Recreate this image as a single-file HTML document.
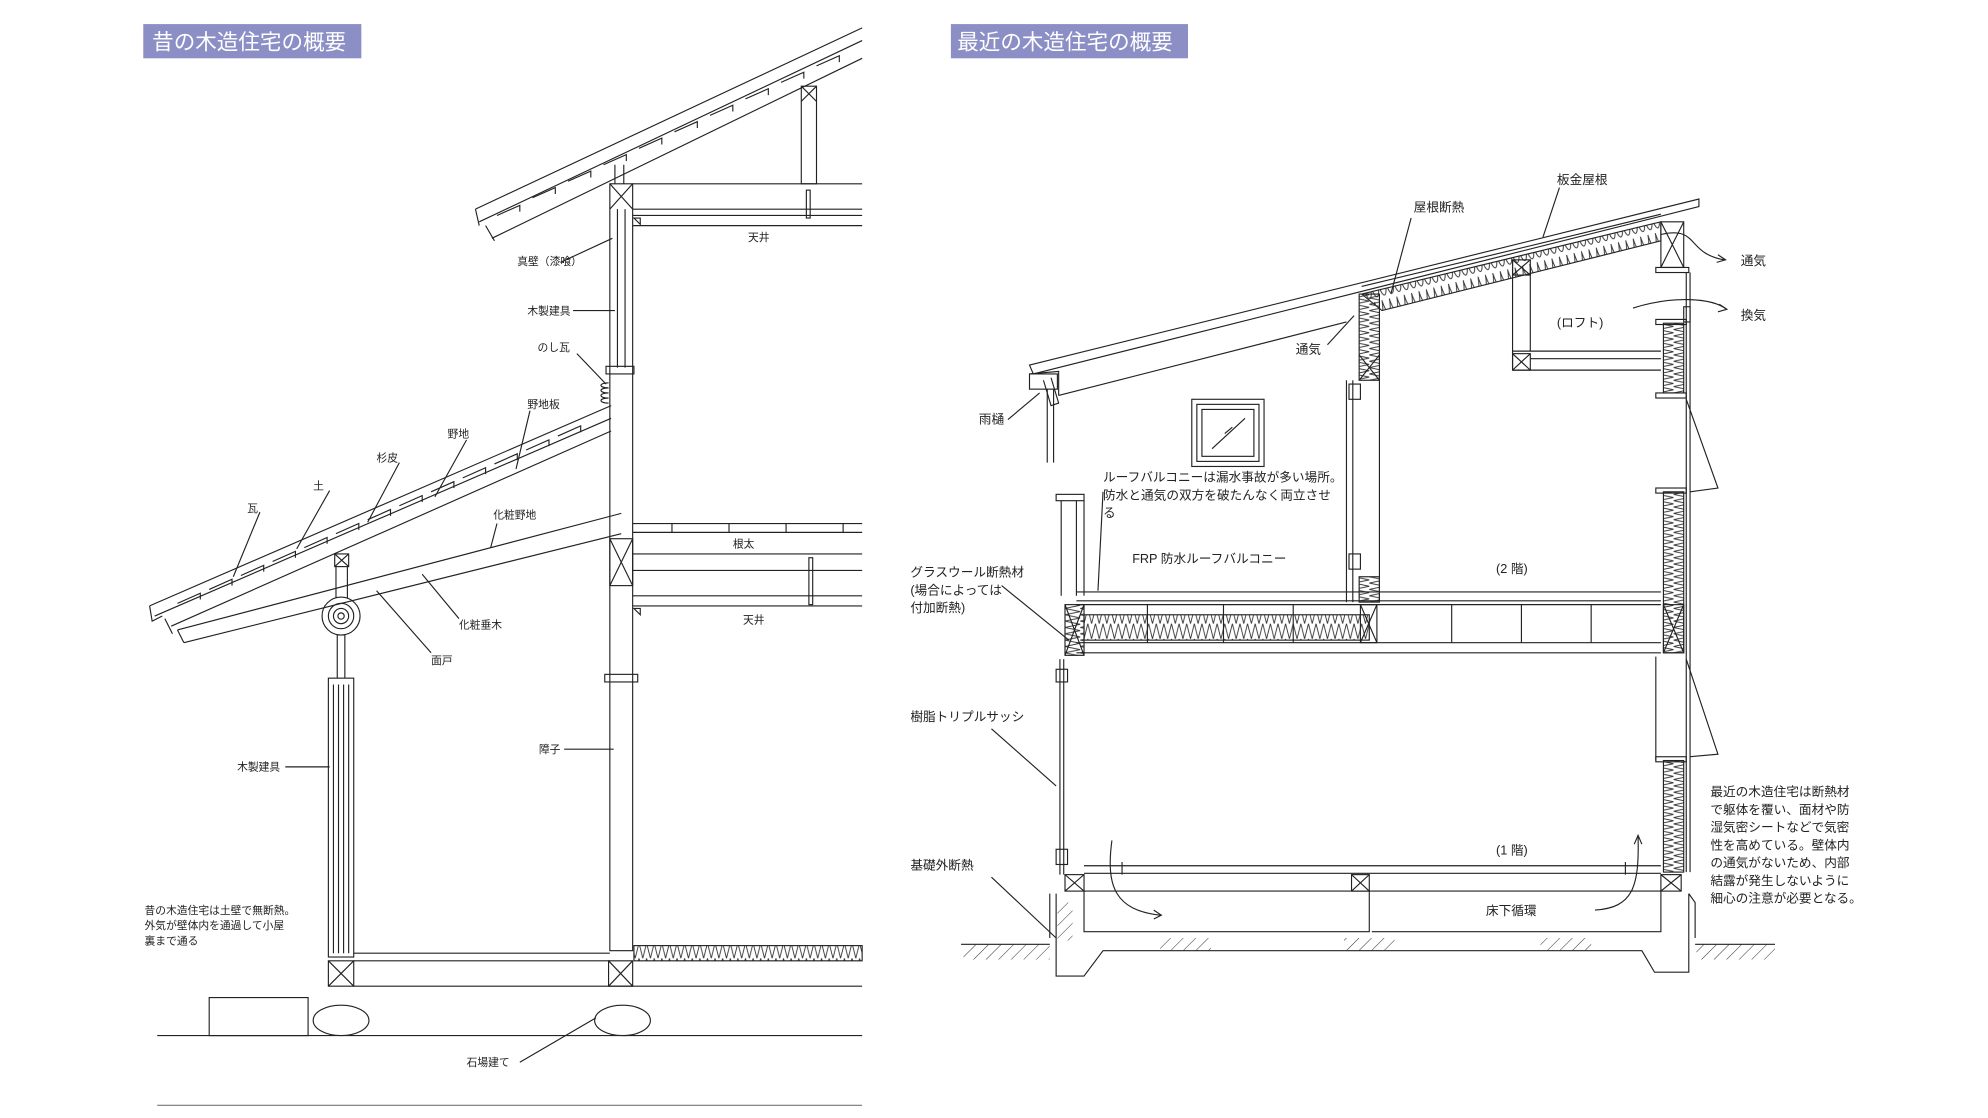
<!DOCTYPE html>
<html><head><meta charset="utf-8"><style>
html,body{margin:0;padding:0;background:#fff;}
svg{display:block;}
text{font-family:"Liberation Sans","Noto Sans CJK JP",sans-serif;fill:#222;}
.s{font-size:8.5px;}
.m{font-size:10px;}
</style></head><body>
<svg width="1988" height="1118" viewBox="0 0 1568 882" preserveAspectRatio="none" xmlns="http://www.w3.org/2000/svg">
<defs>
<pattern id="zz" width="6" height="12" patternUnits="userSpaceOnUse"><path d="M0,0 L3,12 L6,0" fill="none" stroke="#333" stroke-width="0.7"/></pattern>
<pattern id="zr" width="6" height="14" patternUnits="userSpaceOnUse" patternTransform="rotate(-13.8)"><path d="M0,0 C1,14 5,14 6,0" fill="none" stroke="#333" stroke-width="0.7"/></pattern>
<pattern id="zv" width="12" height="5" patternUnits="userSpaceOnUse"><path d="M0,0 L12,2.5 L0,5" fill="none" stroke="#333" stroke-width="0.7"/></pattern>
<pattern id="hatch" width="7" height="7" patternUnits="userSpaceOnUse" patternTransform="rotate(45)"><line x1="0" y1="0" x2="0" y2="7" stroke="#333" stroke-width="0.8"/></pattern>
</defs>
<g fill="none" stroke="#222" stroke-width="0.9">

<!-- ===== LEFT ===== -->
<rect x="113" y="19" width="172" height="27" fill="#8b8fc5" stroke="none"/>
<path d="M375,165 L680,22 M378,175 L680,32 M388,188 L680,46"/>
<path d="M375,165 L378,178 M383,178 L390,190" />
<path d="M392,170 l18,-8 l0,5 M420,156 l18,-8 l0,5 M448,143 l18,-8 l0,5 M476,130 l18,-8 l0,5 M504,117 l18,-8 l0,5 M532,104 l18,-8 l0,5 M560,91 l18,-8 l0,5 M588,78 l18,-8 l0,5 M616,65 l18,-8 l0,5 M644,52 l18,-8 l0,5" />
<rect x="481" y="145" width="18" height="605"/>
<path d="M481,145 L499,165 M499,145 L481,165"/>
<path d="M485,130 L485,145 M492,130 L492,145"/>
<path d="M499,145 L680,145 M499,165 L680,165 M499,170 L680,170 M499,178 L680,178"/>
<rect x="636" y="150" width="3" height="22"/>
<rect x="632" y="68" width="12" height="77"/>
<path d="M632,68 L644,80 M644,68 L632,80"/>
<path d="M487,165 L487,290 M493,165 L493,290"/>
<rect x="478" y="289" width="22" height="6"/>
<path d="M500,172 l5,0 l0,5 z"/>
<path d="M480,302 c-8,0 -8,4 0,4 c-8,0 -8,4 0,4 c-8,0 -8,4 0,4 c-8,0 -8,4 0,4"/>
<path d="M118,478 L482,320 M122,486 L482,330 M135,494 L482,340"/>
<path d="M118,478 L120,490 L128,486 M130,488 L136,500"/>
<path d="M140,476 l18,-8 l0,5 M165,465 l18,-8 l0,5 M190,454 l18,-8 l0,5 M215,443 l18,-8 l0,5 M240,432 l18,-8 l0,5 M265,421 l18,-8 l0,5 M290,410 l18,-8 l0,5 M315,399 l18,-8 l0,5 M340,388 l18,-8 l0,5 M365,377 l18,-8 l0,5 M390,366 l18,-8 l0,5 M415,355 l18,-8 l0,5 M440,344 l18,-8 l0,5" />
<path d="M140,497 L490,405 M145,507 L490,421 M140,497 L145,507"/>
<rect x="481" y="425" width="18" height="37"/>
<path d="M481,425 L499,462 M499,425 L481,462"/>
<path d="M499,413 L680,413 M499,420 L680,420 M530,413 L530,420 M575,413 L575,420 M620,413 L620,420 M665,413 L665,420"/>
<path d="M499,437 L680,437 M499,450 L680,450 M499,470 L680,470 M499,478 L680,478"/>
<rect x="638" y="440" width="3" height="37"/>
<path d="M500,480 l5,0 l0,5 z"/>
<rect x="477" y="532" width="26" height="6"/>
<rect x="264" y="437" width="11" height="10"/>
<path d="M264,437 L275,447 M275,437 L264,447"/>
<path d="M265,447 L265,472 M274,447 L274,472"/>
<circle cx="269" cy="486" r="15"/><circle cx="269" cy="486" r="10"/><circle cx="269" cy="486" r="6"/><circle cx="269" cy="486" r="2.5"/>
<path d="M266,501 L266,535 M272,501 L272,535"/>
<rect x="259" y="535" width="20" height="220"/>
<path d="M263,540 L263,752 M267,540 L267,752 M271,540 L271,752 M275,540 L275,752"/>
<path d="M279,752 L481,752 M279,758 L481,758 M279,778 L680,778"/>
<rect x="259" y="758" width="20" height="20"/><path d="M259,758 L279,778 M279,758 L259,778"/>
<rect x="480" y="758" width="19" height="20"/><path d="M480,758 L499,778 M499,758 L480,778"/>
<rect x="500" y="746" width="180" height="12" fill="url(#zz)"/>
<ellipse cx="269" cy="805" rx="22" ry="12"/>
<ellipse cx="491" cy="805" rx="22" ry="12"/>
<rect x="165" y="787" width="78" height="30"/>
<path d="M124,817 L680,817"/>
<path d="M124,872 L680,872" stroke="#777"/>
<path d="M442,207 L483,188 M452,245 L485,245 M455,279 L478,303 M418,324 L407,370 M368,347 L343,392 M315,365 L290,412 M260,387 L234,433 M205,404 L184,455 M392,413 L387,432 M362,488 L333,453 M340,515 L297,466 M225,605 L260,605 M445,591 L484,591 M410,838 L470,803"/>

<!-- ===== RIGHT ===== -->
<rect x="750" y="19" width="187" height="27" fill="#8b8fc5" stroke="none"/>
<path d="M812,288 L1340,157 L1340,163 L815,295 Z"/>
<path d="M1074,232 L1310,175 L1310,190 L1090,245 Z" fill="url(#zr)"/>
<path d="M1074,226 L1310,169"/>
<path d="M835,312 L1062,254"/>
<path d="M812,295 L835,293 L835,312"/>
<rect x="812" y="295" width="22" height="12"/>
<path d="M826,307 L826,365 M831,307 L831,365"/>
<path d="M823,300 l6,20 l6,-2 l-6,-20"/>
<rect x="1072" y="232" width="16" height="68" fill="url(#zv)"/>
<path d="M1072,280 L1088,300 M1088,280 L1072,300"/>
<rect x="1310" y="175" width="18" height="36"/>
<path d="M1310,175 L1328,211 M1328,175 L1310,211"/>
<rect x="1306" y="211" width="26" height="4"/>
<path d="M1193,205 L1193,292 M1207,212 L1207,277 M1193,277 L1310,277 M1207,283 L1310,283 M1193,292 L1310,292"/>
<rect x="1193" y="205" width="14" height="12"/><path d="M1193,205 L1207,217 M1207,205 L1193,217"/>
<rect x="1193" y="279" width="14" height="13"/><path d="M1193,279 L1207,292 M1207,279 L1193,292"/>
<rect x="1312" y="255" width="16" height="55" fill="url(#zv)"/>
<rect x="1306" y="252" width="24" height="4"/><rect x="1306" y="310" width="24" height="4"/>
<rect x="1312" y="388" width="16" height="127" fill="url(#zv)"/>
<rect x="1306" y="385" width="24" height="4"/>
<rect x="1312" y="600" width="16" height="88" fill="url(#zv)"/>
<rect x="1306" y="597" width="24" height="4"/>
<path d="M1330,215 L1330,688 M1333,215 L1333,688"/>
<path d="M1330,315 L1355,385 L1333,388 M1330,520 L1355,595 L1333,597"/>
<path d="M1306,518 L1306,600"/>
<rect x="1328" y="242" width="5" height="12"/>
<rect x="940" y="315" width="57" height="53"/><rect x="944" y="319" width="49" height="45"/><rect x="948" y="323" width="41" height="37"/>
<path d="M956,354 L982,330 M966,342 L972,337"/>
<path d="M1062,300 L1062,475 M1067,300 L1067,475 M1088,300 L1088,475"/>
<rect x="1064" y="303" width="9" height="12"/><rect x="1064" y="437" width="9" height="12"/>
<rect x="1072" y="455" width="16" height="20" fill="url(#zv)"/>
<rect x="833" y="390" width="22" height="5"/>
<path d="M837,395 L837,470 M849,395 L849,470 M855,395 L855,470"/>
<path d="M836,520 L836,690 M839,520 L839,690"/>
<rect x="833" y="528" width="9" height="10"/><rect x="833" y="670" width="9" height="12"/>
<path d="M849,467 L1310,467 M849,474 L1310,474 M849,477 L1310,477 M849,507 L1310,507 M849,515 L1310,515"/>
<rect x="840" y="477" width="15" height="40" fill="url(#zv)"/>
<path d="M840,477 L855,517 M855,477 L840,517"/>
<rect x="855" y="485" width="225" height="20" fill="url(#zz)"/>
<path d="M905,477 L905,507 M965,477 L965,507 M1020,477 L1020,507 M1145,477 L1145,507 M1200,477 L1200,507 M1255,477 L1255,507"/>
<rect x="1073" y="477" width="13" height="30"/><path d="M1073,477 L1086,507 M1086,477 L1073,507"/>
<rect x="1312" y="477" width="16" height="38"/><path d="M1312,477 L1328,515 M1328,477 L1312,515"/>
<path d="M855,683 L1310,683 M855,689 L1310,689 M855,703 L1310,703 M885,680 L885,690 M1282,680 L1282,690"/>
<rect x="840" y="690" width="15" height="13"/><path d="M840,690 L855,703 M855,690 L840,703"/>
<rect x="1066" y="690" width="14" height="13"/><path d="M1066,690 L1080,703 M1080,690 L1066,703"/>
<rect x="1310" y="690" width="16" height="13"/><path d="M1310,690 L1326,703 M1326,690 L1310,703"/>
<path d="M828,705 L828,740 M833,705 L833,770 L855,770 L870,750 L1295,750 L1305,767 L1332,767 L1332,705 M855,703 L855,735 L1080,735 L1080,703 M1082,735 L1310,735 L1310,703 M1332,705 L1337,712 L1337,740"/>
<rect x="834" y="712" width="12" height="30" fill="url(#hatch)" stroke="none"/>
<path d="M758,745 L828,745 M1337,745 L1400,745"/>
<rect x="760" y="745" width="68" height="12" fill="url(#hatch)" stroke="none"/>
<rect x="1338" y="745" width="62" height="12" fill="url(#hatch)" stroke="none"/>
<rect x="915" y="740" width="40" height="10" fill="url(#hatch)" stroke="none"/>
<rect x="1060" y="740" width="40" height="10" fill="url(#hatch)" stroke="none"/>
<rect x="1215" y="740" width="40" height="10" fill="url(#hatch)" stroke="none"/>
<path d="M877,663 C872,700 880,718 915,722"/><path d="M910,718 l6,4 l-6,3"/>
<path d="M1258,718 C1288,716 1293,700 1292,660"/><path d="M1289,666 l3,-7 l3,7"/>
<path d="M1310,185 C1340,178 1330,200 1360,205"/><path d="M1355,201 l6,4 l-7,2"/>
<path d="M1288,243 C1320,233 1350,235 1362,244"/><path d="M1356,240 l6,4 l-7,2"/>
<path d="M1230,148 L1217,187 M1113,172 L1097,232 M1047,272 L1068,249 M795,331 L820,310 M870,388 L866,466 M790,462 L843,505 M782,575 L833,620 M782,692 L833,740"/>
</g>
<g stroke="none">
<text x="120" y="39" style="font-size:17px;fill:#fff">昔の木造住宅の概要</text>
<text x="755" y="39" style="font-size:17px;fill:#fff">最近の木造住宅の概要</text>
<g class="s">
<text x="590" y="190">天井</text>
<text x="408" y="209">真壁（漆喰）</text>
<text x="416" y="248">木製建具</text>
<text x="424" y="277">のし瓦</text>
<text x="416" y="322">野地板</text>
<text x="353" y="345">野地</text>
<text x="297" y="364">杉皮</text>
<text x="247" y="386">土</text>
<text x="195" y="404">瓦</text>
<text x="389" y="409">化粧野地</text>
<text x="578" y="432">根太</text>
<text x="586" y="492">天井</text>
<text x="362" y="496">化粧垂木</text>
<text x="340" y="524">面戸</text>
<text x="187" y="608">木製建具</text>
<text x="425" y="594">障子</text>
<text x="368" y="841">石場建て</text>
<text x="114" y="721">昔の木造住宅は土壁で無断熱。</text>
<text x="114" y="733">外気が壁体内を通過して小屋</text>
<text x="114" y="745">裏まで通る</text>
</g>
<g class="m">
<text x="1228" y="145">板金屋根</text>
<text x="1115" y="167">屋根断熱</text>
<text x="1373" y="209">通気</text>
<text x="1373" y="252">換気</text>
<text x="1228" y="258">(ロフト)</text>
<text x="1022" y="279">通気</text>
<text x="772" y="334">雨樋</text>
<text x="870" y="380">ルーフバルコニーは漏水事故が多い場所。</text>
<text x="870" y="394">防水と通気の双方を破たんなく両立させ</text>
<text x="870" y="408">る</text>
<text x="893" y="444">FRP 防水ルーフバルコニー</text>
<text x="1180" y="452">(2 階)</text>
<text x="718" y="455">グラスウール断熱材</text>
<text x="718" y="469">(場合によっては</text>
<text x="718" y="483">付加断熱)</text>
<text x="718" y="569">樹脂トリプルサッシ</text>
<text x="718" y="686">基礎外断熱</text>
<text x="1180" y="674">(1 階)</text>
<text x="1172" y="722">床下循環</text>
<text x="1349" y="628">最近の木造住宅は断熱材</text>
<text x="1349" y="642">で躯体を覆い、面材や防</text>
<text x="1349" y="656">湿気密シートなどで気密</text>
<text x="1349" y="670">性を高めている。壁体内</text>
<text x="1349" y="684">の通気がないため、内部</text>
<text x="1349" y="698">結露が発生しないように</text>
<text x="1349" y="712">細心の注意が必要となる。</text>
</g>
</g>
</svg>
</body></html>
